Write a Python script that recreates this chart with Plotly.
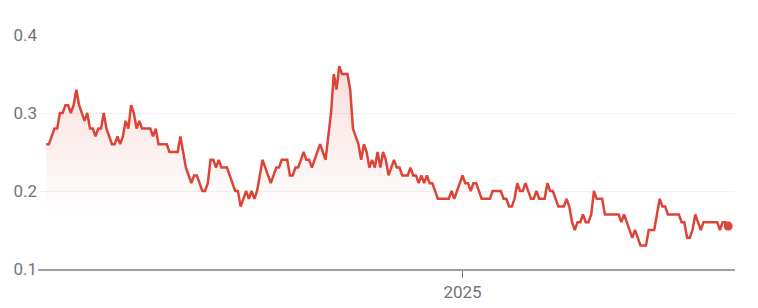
import pandas as pd
import plotly.graph_objects as go
from pandas.tseries.offsets import BDay

# Price series (daily trading sessions)
values = [
    0.26, 0.26, 0.27, 0.28, 0.28, 0.30, 0.30, 0.31, 0.31, 0.30,
    0.31, 0.33, 0.31, 0.30, 0.29, 0.30, 0.28, 0.28, 0.27, 0.28,
    0.28, 0.30, 0.28, 0.27, 0.26, 0.26, 0.27, 0.26, 0.27, 0.29,
    0.28, 0.31, 0.30, 0.28, 0.29, 0.28, 0.28, 0.28, 0.28, 0.27,
    0.28, 0.26, 0.26, 0.26, 0.26, 0.25, 0.25, 0.25, 0.25, 0.27,
    0.25, 0.23, 0.22, 0.21, 0.22, 0.22, 0.21, 0.20, 0.20, 0.21,
    0.24, 0.24, 0.23, 0.24, 0.23, 0.23, 0.23, 0.22, 0.21, 0.20,
    0.20, 0.18, 0.19, 0.20, 0.19, 0.20, 0.19, 0.20, 0.22, 0.24,
    0.23, 0.22, 0.21, 0.22, 0.23, 0.23, 0.24, 0.24, 0.24, 0.22,
    0.22, 0.23, 0.23, 0.24, 0.25, 0.24, 0.24, 0.23, 0.24, 0.25,
    0.26, 0.25, 0.24, 0.27, 0.30, 0.35, 0.33, 0.36, 0.35, 0.35,
    0.35, 0.33, 0.28, 0.27, 0.26, 0.24, 0.26, 0.25, 0.23, 0.24,
    0.23, 0.25, 0.23, 0.25, 0.24, 0.22, 0.23, 0.24, 0.23, 0.23,
    0.22, 0.22, 0.22, 0.23, 0.22, 0.22, 0.21, 0.22, 0.21, 0.22,
    0.21, 0.21, 0.20, 0.19, 0.19, 0.19, 0.19, 0.19, 0.20, 0.19,
    0.20, 0.21, 0.22, 0.21, 0.21, 0.20, 0.21, 0.21, 0.20, 0.19,
    0.19, 0.19, 0.19, 0.20, 0.20, 0.20, 0.20, 0.19, 0.19, 0.18,
    0.18, 0.19, 0.21, 0.20, 0.20, 0.21, 0.20, 0.19, 0.19, 0.20,
    0.19, 0.19, 0.19, 0.21, 0.20, 0.20, 0.19, 0.18, 0.18, 0.18,
    0.19, 0.18, 0.16, 0.15, 0.16, 0.16, 0.17, 0.16, 0.16, 0.17,
    0.20, 0.19, 0.19, 0.19, 0.17, 0.17, 0.17, 0.17, 0.17, 0.17,
    0.16, 0.17, 0.16, 0.15, 0.14, 0.15, 0.14, 0.13, 0.13, 0.13,
    0.15, 0.15, 0.15, 0.17, 0.19, 0.18, 0.18, 0.17, 0.17, 0.17,
    0.17, 0.17, 0.16, 0.16, 0.14, 0.14, 0.15, 0.17, 0.16, 0.15,
    0.16, 0.16, 0.16, 0.16, 0.16, 0.16, 0.15, 0.16, 0.16, 0.155,
]
end_date = "2025-05-16"
dates = pd.bdate_range(end=end_date, periods=len(values))

y_ticks = [0.1, 0.2, 0.3, 0.4]
y_ticktext = ["0.1", "0.2", "0.3", "0.4"]
x_tickvals = ["2025-01-01"]
x_ticktext = ["2025"]

RED = "#db4437"
GREY_TXT = "#70757a"
FONT = "Liberation Sans Narrow, Roboto, Arial, sans-serif"

fig = go.Figure()
fig.add_trace(go.Scatter(
    x=dates, y=values, mode="lines",
    line=dict(color=RED, width=2.5),
    fill="tozeroy",
    fillgradient=dict(
        type="vertical",
        colorscale=[[0, "rgba(219,68,55,0)"], [1, "rgba(219,68,55,0.18)"]],
        start=0.17, stop=0.36,
    ),
    hoverinfo="skip", showlegend=False,
))
fig.add_trace(go.Scatter(
    x=[dates[-1]], y=[values[-1]], mode="markers",
    marker=dict(color=RED, size=9),
    hoverinfo="skip", showlegend=False,
))

x0 = dates[0] - BDay(3)
x1 = dates[-1] + BDay(2) + pd.Timedelta(hours=12)

fig.update_layout(
    width=758, height=308,
    margin=dict(l=38, r=23, t=35, b=39),
    paper_bgcolor="white", plot_bgcolor="white",
    font=dict(family=FONT, size=17, color=GREY_TXT),
    xaxis=dict(
        range=[x0, x1], tickvals=x_tickvals, ticktext=x_ticktext,
        rangebreaks=[dict(bounds=["sat", "mon"])],
        ticks="outside", ticklen=7, tickwidth=1, tickcolor="#70757a",
        showgrid=False, showline=True, linecolor="#9aa0a6", linewidth=2,
        zeroline=False, fixedrange=True, automargin=False,
    ),
    yaxis=dict(
        range=[0.1, 0.4], tickvals=y_ticks, ticktext=y_ticktext,
        showgrid=True, gridcolor="#f1f1f1", gridwidth=1,
        zeroline=False, showline=False, ticks="", fixedrange=True,
        automargin=False,
    ),
)

fig.write_html("out.html")
